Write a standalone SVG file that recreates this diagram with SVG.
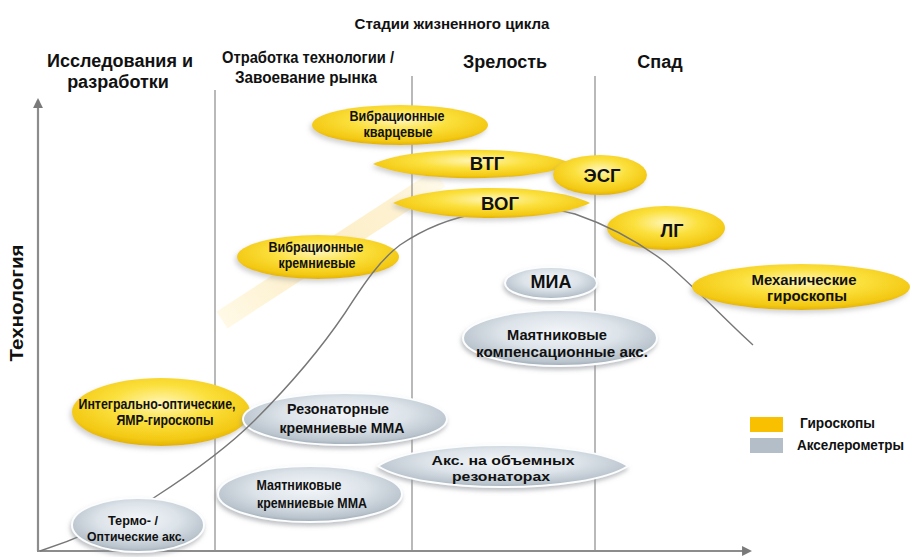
<svg xmlns="http://www.w3.org/2000/svg" width="910" height="557" viewBox="0 0 910 557">
<style>
.h{font-family:"Liberation Sans",Arial,sans-serif;font-weight:bold;fill:#111}
.hc{font-family:"Liberation Sans",Arial,sans-serif;font-weight:bold;fill:#111;text-anchor:middle}
.n{font-family:"Liberation Sans Narrow","Liberation Sans",Arial,sans-serif;font-weight:bold;fill:#111;text-anchor:middle}
.yel{fill:url(#gy);filter:url(#sh)}
.gry{fill:url(#gg);stroke:#fbfdfe;stroke-width:2;filter:url(#sh2)}
.div{stroke:#8a8a8a;stroke-width:1.2;fill:none}
.ax{stroke:#8c8c8c;stroke-width:2.2;fill:none}
</style>
<defs>
<radialGradient id="gy" cx="0.5" cy="0.38" r="0.62">
<stop offset="0" stop-color="#FFF6B8"/>
<stop offset="0.45" stop-color="#FBE03C"/>
<stop offset="0.85" stop-color="#F3C914"/>
<stop offset="1" stop-color="#E3B202"/>
</radialGradient>
<radialGradient id="gg" cx="0.5" cy="0.4" r="0.62">
<stop offset="0" stop-color="#F3F6F9"/>
<stop offset="0.5" stop-color="#DCE3E9"/>
<stop offset="0.85" stop-color="#BAC4CD"/>
<stop offset="1" stop-color="#97A3AE"/>
</radialGradient>
<linearGradient id="band" gradientUnits="userSpaceOnUse" x1="222" y1="320" x2="440" y2="178">
<stop offset="0" stop-color="#FFF6D6"/>
<stop offset="0.4" stop-color="#FCE4A4"/>
<stop offset="0.8" stop-color="#FDE9B3"/>
<stop offset="1" stop-color="#FFF8E0"/>
</linearGradient>
<filter id="sh" x="-20%" y="-30%" width="140%" height="170%">
<feDropShadow dx="-2" dy="3" stdDeviation="2.5" flood-color="#9a9a9a" flood-opacity="0.45"/>
</filter>
<filter id="sh2" x="-20%" y="-30%" width="140%" height="170%">
<feDropShadow dx="-1" dy="3" stdDeviation="2" flood-color="#8a8f94" flood-opacity="0.55"/>
</filter>
<marker id="ah" viewBox="0 0 10 10" refX="8" refY="5" markerWidth="4.5" markerHeight="4.5" orient="auto-start-reverse" markerUnits="strokeWidth">
<path d="M0,0 L10,5 L0,10 Z" fill="#7a7a7a"/>
</marker>
</defs>

<line x1="222" y1="320" x2="440" y2="178" stroke="url(#band)" stroke-width="20" opacity="0.6"/>

<g id="dividers">
<line class="div" x1="215" y1="90" x2="215" y2="551"/>
<line class="div" x1="412" y1="76" x2="412" y2="551"/>
<line class="div" x1="595" y1="76" x2="595" y2="551"/>
</g>

<g id="axes">
<line class="ax" x1="38" y1="551" x2="38" y2="100" marker-end="url(#ah)"/>
<line class="ax" x1="37" y1="551" x2="750" y2="551" marker-end="url(#ah)"/>
</g>

<g id="headers">
<text class="hc" x="452" y="29" font-size="14.5" textLength="195" lengthAdjust="spacingAndGlyphs">Стадии жизненного цикла</text>
<text class="hc" x="120" y="67" font-size="18">Исследования и</text>
<text class="hc" x="118" y="88" font-size="18">разработки</text>
<text class="n" x="308" y="63" font-size="16" textLength="172" lengthAdjust="spacingAndGlyphs">Отработка технологии /</text>
<text class="n" x="306" y="83" font-size="16" textLength="142" lengthAdjust="spacingAndGlyphs">Завоевание рынка</text>
<text class="hc" x="505" y="68" font-size="18">Зрелость</text>
<text class="hc" x="660" y="68" font-size="18">Спад</text>
<text class="hc" font-size="19" transform="translate(23,303) rotate(-90)" textLength="117" lengthAdjust="spacingAndGlyphs">Технология</text>
</g>

<g id="n-vibr-krem">
<ellipse class="yel" cx="318" cy="257" rx="81" ry="22"/>
<text class="n" x="316" y="252" font-size="14" textLength="95" lengthAdjust="spacingAndGlyphs">Вибрационные</text>
<text class="n" x="317" y="268" font-size="14" textLength="77" lengthAdjust="spacingAndGlyphs">кремниевые</text>
</g>
<g id="n-lg">
<ellipse class="yel" cx="666" cy="228" rx="59" ry="22"/>
<text class="hc" x="672" y="237" font-size="18">ЛГ</text>
</g>
<g id="n-integr">
<ellipse class="yel" cx="161" cy="412" rx="89" ry="34"/>
<text class="n" x="157" y="409" font-size="14" textLength="157" lengthAdjust="spacingAndGlyphs">Интегрально-оптические,</text>
<text class="n" x="165" y="425" font-size="14" textLength="97" lengthAdjust="spacingAndGlyphs">ЯМР-гироскопы</text>
</g>
<g id="n-rezon">
<ellipse class="gry" cx="345" cy="419" rx="102" ry="26"/>
<text class="n" x="338" y="414" font-size="15" textLength="102" lengthAdjust="spacingAndGlyphs">Резонаторные</text>
<text class="n" x="342" y="433" font-size="15" textLength="125" lengthAdjust="spacingAndGlyphs">кремниевые ММА</text>
</g>

<g id="connectors">
<path d="M40,551 C80,538 120,520 155,497 C200,468 230,445 255,420 C290,385 320,350 345,313 C365,282 380,260 400,245 C425,228 450,218 480,213 C515,207 550,207 575,214 C610,226 640,243 665,262 C695,287 725,320 753,345" fill="none" stroke="#777" stroke-width="1.4"/>
</g>

<g id="n-vibr-kvarc">
<ellipse class="yel" cx="400" cy="125" rx="88" ry="20"/>
<text class="n" x="397" y="121" font-size="14" textLength="95" lengthAdjust="spacingAndGlyphs">Вибрационные</text>
<text class="n" x="398" y="137" font-size="14" textLength="69" lengthAdjust="spacingAndGlyphs">кварцевые</text>
</g>
<g id="n-vtg">
<path class="yel" d="M373,164 C413,145 533,145 573,164 C533,183 413,183 373,164 Z"/>
<text class="hc" x="487" y="170" font-size="18.5">ВТГ</text>
</g>
<g id="n-vog">
<path class="yel" d="M393,203 C433,183 550,183 590,203 C550,223 433,223 393,203 Z"/>
<text class="hc" x="500" y="210" font-size="18.5">ВОГ</text>
</g>
<g id="n-esg">
<ellipse class="yel" cx="600" cy="175" rx="47" ry="20"/>
<text class="hc" x="602" y="182" font-size="18.5">ЭСГ</text>
</g>
<g id="n-mech">
<ellipse class="yel" cx="801" cy="287" rx="109" ry="23"/>
<text class="n" x="804" y="285" font-size="14.5" textLength="105" lengthAdjust="spacingAndGlyphs">Механические</text>
<text class="n" x="807" y="301" font-size="14.5" textLength="80" lengthAdjust="spacingAndGlyphs">гироскопы</text>
</g>
<g id="n-mia">
<ellipse class="gry" cx="551" cy="283" rx="46" ry="16"/>
<text class="hc" x="551" y="288" font-size="18">МИА</text>
</g>
<g id="n-mayat-komp">
<ellipse class="gry" cx="560" cy="338" rx="97" ry="28"/>
<text class="n" x="557" y="340" font-size="15" textLength="100" lengthAdjust="spacingAndGlyphs">Маятниковые</text>
<text class="n" x="562" y="357" font-size="15" textLength="172" lengthAdjust="spacingAndGlyphs">компенсационные акс.</text>
</g>
<g id="n-termo">
<ellipse class="gry" cx="138" cy="525" rx="66" ry="27"/>
<text class="n" x="133" y="525" font-size="13.5" textLength="50" lengthAdjust="spacingAndGlyphs">Термо- /</text>
<text class="n" x="136" y="541" font-size="13.5" textLength="98" lengthAdjust="spacingAndGlyphs">Оптические акс.</text>
</g>
<g id="n-mayat-krem">
<ellipse class="gry" cx="310" cy="494" rx="92" ry="28"/>
<text class="n" x="299" y="490" font-size="14" textLength="85" lengthAdjust="spacingAndGlyphs">Маятниковые</text>
<text class="n" x="312" y="508" font-size="14" textLength="110" lengthAdjust="spacingAndGlyphs">кремниевые ММА</text>
</g>
<g id="n-aks-obem">
<path class="gry" d="M378,466 C420,438 586,438 628,466 C586,494 420,494 378,466 Z"/>
<text class="n" x="503" y="465" font-size="13.5" textLength="143" lengthAdjust="spacingAndGlyphs">Акс. на объемных</text>
<text class="n" x="501" y="481" font-size="13.5" textLength="98" lengthAdjust="spacingAndGlyphs">резонаторах</text>
</g>

<g id="legend">
<rect x="750" y="417" width="33" height="15" fill="#F9C000"/>
<rect x="750" y="438" width="33" height="15" fill="#B3BEC8"/>
<text class="h" x="800" y="428" font-size="14" textLength="75" lengthAdjust="spacingAndGlyphs">Гироскопы</text>
<text class="h" x="797" y="450" font-size="14" textLength="107" lengthAdjust="spacingAndGlyphs">Акселерометры</text>
</g>
</svg>
